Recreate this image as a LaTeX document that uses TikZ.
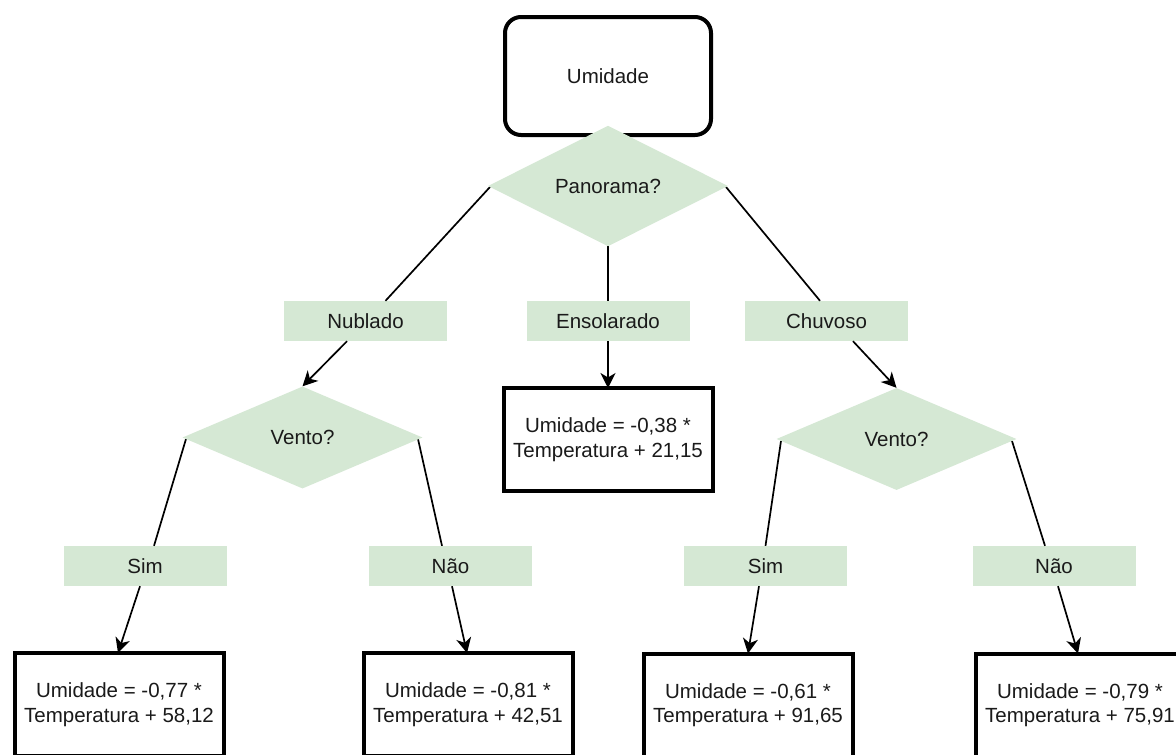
\documentclass[tikz,border=0pt]{standalone}
\usepackage{fontspec}
\setmainfont{Liberation Sans}
\usetikzlibrary{shapes.geometric,arrows.meta}
\definecolor{lgreen}{HTML}{D5E8D4}
\definecolor{txt}{HTML}{1A1A1A}
\begin{document}
\begin{tikzpicture}[x=1pt,y=-1pt,
  every node/.style={font=\fontsize{20.5}{24.5}\selectfont, text=txt, align=center},
  topbox/.style={draw=black, line width=4pt, rounded corners=16pt, fill=white, minimum width=206pt, minimum height=118pt, inner sep=0pt},
  leafbox/.style={draw=black, line width=4pt, fill=white, minimum width=209pt, minimum height=103pt, inner sep=0pt},
  decision/.style={diamond, fill=lgreen, minimum width=240pt, minimum height=102pt, inner sep=0pt},
  choice/.style={rectangle, fill=lgreen, minimum width=163pt, minimum height=40pt, inner sep=0pt},
  link/.style={line width=1.7pt, draw=black},
  arrowlink/.style={line width=1.7pt, draw=black, -{Stealth[length=15pt,width=15pt,inset=4.5pt]}}
]
\useasboundingbox (0,0) rectangle (1176,755);
\clip (0,0) rectangle (1176,755);
\fill[white] (0,0) rectangle (1176,755);

% nodes
\node[topbox] (top) at (608,76) {Umidade};

\node[choice] (nub) at (365.5,321) {Nublado};
\node[choice] (ens) at (608,321) {Ensolarado};
\node[choice] (chu) at (826.5,321) {Chuvoso};

\node[leafbox] (lens) at (608,439.5) {Umidade = -0,38 *\\Temperatura + 21,15};

\node[choice] (simL) at (145,566) {Sim};
\node[choice] (naoL) at (450.5,566) {Não};
\node[choice] (simR) at (765.5,566) {Sim};
\node[choice] (naoR) at (1054,566) {Não};

\node[leafbox] (l1) at (119,704.5) {Umidade = -0,77 *\\Temperatura + 58,12};
\node[leafbox] (l2) at (468,704.5) {Umidade = -0,81 *\\Temperatura + 42,51};
\node[leafbox] (l3) at (748,705) {Umidade = -0,61 *\\Temperatura + 91,65};
\node[leafbox] (l4) at (1080,705) {Umidade = -0,79 *\\Temperatura + 75,91};

% connectors (drawn before diamonds so the diamonds cover their ends)
\coordinate (panW) at (490,187);
\coordinate (panS) at (608,236);
\coordinate (panE) at (726,187);
\coordinate (vLW) at (186,439);
\coordinate (vLE) at (418,439);
\coordinate (vRW) at (781,441);
\coordinate (vRE) at (1012,441);

\draw[link] (panW) -- ([xshift=20pt]nub.north);
\draw[link] (panS) -- (ens.north);
\draw[link] (panE) -- ([xshift=-6.5pt]chu.north);

\draw[link] (vLW) -- ([xshift=9pt]simL.north);
\draw[link] (vLE) -- ([xshift=-8.5pt]naoL.north);
\draw[link] (vRW) -- (simR.north);
\draw[link] (vRE) -- ([xshift=-9pt]naoR.north);

% diamonds
\node[decision] (pan) at (608,186) {Panorama?};
\node[decision] (vL) at (302.5,437.5) {Vento?};
\node[decision] (vR) at (896.5,439) {Vento?};

% arrows
\draw[arrowlink] ([xshift=-18.5pt]nub.south) -- (vL.north);
\draw[arrowlink] (ens.south) -- ([yshift=-2pt]lens.north);
\draw[arrowlink] ([xshift=26.5pt]chu.south) -- (vR.north);

\draw[arrowlink] ([xshift=-5pt]simL.south) -- ([xshift=-1pt,yshift=-2pt]l1.north);
\draw[arrowlink] ([xshift=1.5pt]naoL.south) -- ([xshift=-1pt,yshift=-2pt]l2.north);
\draw[arrowlink] ([xshift=-6.5pt]simR.south) -- ([yshift=-2pt]l3.north);
\draw[arrowlink] ([xshift=4pt]naoR.south) -- ([xshift=-2pt,yshift=-2pt]l4.north);
\end{tikzpicture}
\end{document}
